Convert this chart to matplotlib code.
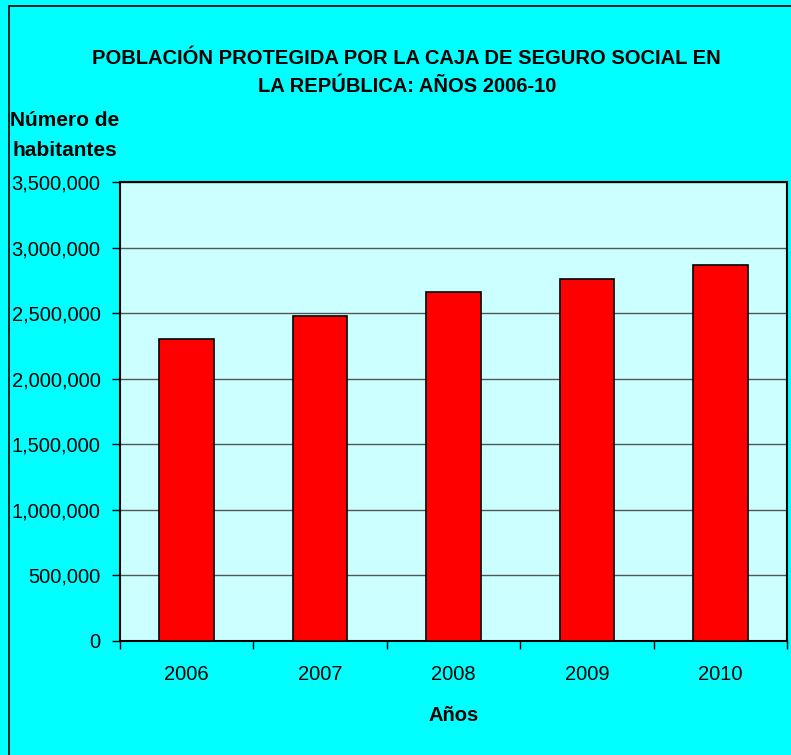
import matplotlib.pyplot as plt
import matplotlib.patches as patches
from matplotlib.ticker import FuncFormatter

# datos
anios = ["2006", "2007", "2008", "2009", "2010"]
poblacion = [2304000, 2482000, 2658000, 2761000, 2864000]
y_ticks = [0, 500000, 1000000, 1500000, 2000000, 2500000, 3000000, 3500000]

plt.rcParams['font.family'] = ['Liberation Sans', 'DejaVu Sans']

fig = plt.figure(figsize=(7.91, 7.55), dpi=100, facecolor='#00FFFF')
ax = fig.add_axes([120/791, 114/755, 667/791, 459/755])
ax.set_facecolor('#CCFFFF')

x = list(range(len(anios)))
ax.bar(x, poblacion, width=0.41, color='#FF0000', edgecolor='black', linewidth=1.2, zorder=3)

ax.set_xlim(-0.5, len(anios) - 0.5)
ax.set_ylim(0, 3500000)
ax.set_yticks(y_ticks)
ax.yaxis.set_major_formatter(FuncFormatter(lambda v, p: f"{int(v):,}"))
ax.grid(axis='y', color='#555555', linewidth=1, zorder=1)

# ticks del eje x entre categorias
ax.set_xticks([i - 0.5 for i in range(len(anios) + 1)])
ax.set_xticklabels([])
ax.set_xticks(x, minor=True)
ax.set_xticklabels(anios, minor=True, fontsize=14.5)
ax.tick_params(axis='x', which='minor', length=0, pad=17)
ax.tick_params(axis='x', which='major', length=6, direction='out', width=1)
ax.tick_params(axis='y', length=6, direction='out', width=1, labelsize=14.5, pad=8)

for s in ax.spines.values():
    s.set_linewidth(1.5)
    s.set_color('black')

ax.set_xlabel("Años", fontsize=14.5, fontweight='bold', labelpad=16)

fig.text(0.514, 1 - 58/755, "POBLACIÓN PROTEGIDA POR LA CAJA DE SEGURO SOCIAL EN",
         ha='center', va='center', fontsize=14.5, fontweight='bold')
fig.text(0.515, 1 - 87/755, "LA REPÚBLICA: AÑOS 2006-10",
         ha='center', va='center', fontsize=14.5, fontweight='bold')
fig.text(10/791, 1 - 120/755, "Número de", ha='left', va='center', fontsize=15, fontweight='bold')
fig.text(13/791, 1 - 150/755, "habitantes", ha='left', va='center', fontsize=15, fontweight='bold')

# borde del grafico
fig.patches.append(patches.Rectangle((9/791, -0.01), 1.0, 1 - 6/755 + 0.01, transform=fig.transFigure,
                                     fill=False, edgecolor='black', linewidth=1.2))

fig.savefig("out.png", dpi=100, facecolor=fig.get_facecolor())
